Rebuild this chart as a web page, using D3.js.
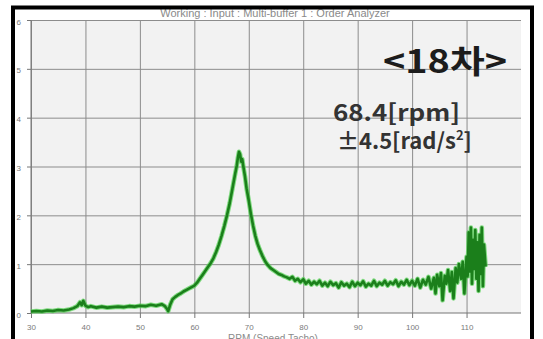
<!DOCTYPE html>
<html>
<head>
  <meta charset="utf-8">
  <script src="https://d3js.org/d3.v7.min.js"></script>
  <style type="text/css">
    body { margin: 0; background: #fff; }
    .tick text { font-family: "Liberation Sans", Arial, sans-serif; font-size: 8px; fill: #7a7a7a; }
    .note { font-family: "Noto Sans CJK KR", "Noto Sans", sans-serif; font-weight: bold; }
  </style>
</head>
<body>
<script type="text/javascript">
  // Tick values
  var xTicks = [30, 40, 50, 60, 70, 80, 90, 100, 110];
  var yTicks = [0, 1, 2, 3, 4, 5, 6];

  // Order 18 trace: [rpm, amplitude]
  var trace = [
    [30.0,0.03],[31.0,0.04],[32.0,0.03],[33.0,0.05],[34.0,0.04],[35.0,0.06],[36.0,0.05],[37.0,0.07],
    [37.8,0.10],[38.5,0.14],[39.0,0.22],[39.3,0.16],[39.6,0.25],[40.0,0.15],[40.5,0.12],[41.0,0.14],
    [42.0,0.11],[43.0,0.13],[44.0,0.11],[45.0,0.12],[46.0,0.13],[47.0,0.12],[48.0,0.14],[49.0,0.13],
    [50.0,0.15],[51.0,0.14],[52.0,0.17],[53.0,0.15],[54.0,0.18],[54.6,0.14],[55.0,0.08],[55.2,0.04],
    [55.6,0.18],[56.0,0.28],[56.5,0.33],[57.0,0.37],[57.5,0.40],[58.0,0.44],[58.5,0.47],[59.0,0.50],
    [59.5,0.53],[60.0,0.56],[60.5,0.62],[61.0,0.70],[61.5,0.78],[62.0,0.86],[62.5,0.94],[63.0,1.02],
    [63.5,1.12],[64.0,1.25],[64.5,1.40],[65.0,1.58],[65.5,1.78],[66.0,2.00],[66.5,2.25],[67.0,2.55],
    [67.5,2.85],[67.8,3.02],[68.0,3.18],[68.2,3.30],[68.4,3.25],[68.6,3.10],[68.8,3.15],[69.0,3.00],
    [69.3,2.80],[69.6,2.55],[70.0,2.30],[70.4,2.02],[70.8,1.78],[71.2,1.58],[71.6,1.42],[72.0,1.30],
    [72.5,1.17],[73.0,1.06],[73.5,0.98],[74.0,0.92],[74.5,0.88],[75.0,0.84],[75.5,0.80],[76.0,0.78],
    [76.5,0.75],[77.0,0.73],[77.5,0.70],[78.0,0.74],[78.5,0.66],[79.0,0.70],[79.5,0.63],[80.0,0.69],
    [80.5,0.60],[81.0,0.66],[81.5,0.58],[82.0,0.64],[82.5,0.59],[83.0,0.66],[83.5,0.56],[84.0,0.62],
    [84.5,0.55],[85.0,0.64],[85.5,0.57],[86.0,0.61],[86.5,0.52],[87.0,0.63],[87.5,0.56],[88.0,0.60],
    [88.5,0.53],[89.0,0.64],[89.5,0.55],[90.0,0.62],[90.5,0.57],[91.0,0.65],[91.5,0.54],[92.0,0.60],
    [92.5,0.56],[93.0,0.66],[93.5,0.55],[94.0,0.62],[94.5,0.58],[95.0,0.66],[95.5,0.56],[96.0,0.63],
    [96.5,0.59],[97.0,0.67],[97.5,0.55],[98.0,0.64],[98.5,0.58],[99.0,0.68],[99.5,0.57],[100.0,0.66],
    [100.5,0.56],[101.0,0.70],[101.5,0.52],[102.0,0.68],[102.5,0.58],[103.0,0.74],[103.5,0.50],[104.0,0.72],
    [104.3,0.40],[104.6,0.78],[105.0,0.55],[105.3,0.82],[105.6,0.26],[106.0,0.76],[106.3,0.60],[106.6,0.88],
    [107.0,0.45],[107.3,0.84],[107.6,0.30],[108.0,0.92],[108.3,0.62],[108.6,1.00],[109.0,0.70],[109.3,1.05],
    [109.6,0.40],[110.0,1.15],[110.2,0.75],[110.4,1.65],[110.6,0.85],[110.8,1.75],[111.0,0.60],[111.2,1.50],
    [111.4,0.90],[111.6,1.70],[111.8,0.70],[112.0,1.45],[112.2,0.45],[112.4,1.60],[112.6,0.80],[112.8,1.75],
    [113.0,0.55],[113.2,1.40],[113.5,0.95]
  ];

  function draw() {
    var W = 543, H = 339;
    var pLeft = 31, pRight = 521, pTop = 20, pBottom = 313;

    var svg = d3.select("body").append("svg")
        .attr("width", W)
        .attr("height", H);

    var x = d3.scaleLinear().domain([30, 120]).range([pLeft, pRight]);
    var y = d3.scaleLinear().domain([0, 6]).range([pBottom, pTop]);

    // plot background
    svg.append("rect")
        .attr("x", pLeft).attr("y", pTop)
        .attr("width", pRight - pLeft).attr("height", pBottom - pTop)
        .attr("fill", "#f2f2f2");

    // title (top half hidden by the frame)
    svg.append("text")
        .attr("x", 275).attr("y", 17)
        .attr("text-anchor", "middle")
        .style("font-family", "Liberation Sans, Arial, sans-serif")
        .style("font-size", "11px")
        .style("fill", "#8a8a8a")
        .text("Working : Input : Multi-buffer 1 : Order Analyzer");

    // grid
    svg.append("g")
        .attr("transform", "translate(0," + pBottom + ")")
        .call(d3.axisBottom(x).tickValues(xTicks).tickSize(-(pBottom - pTop)).tickFormat(""))
        .call(function(g) { g.select(".domain").remove(); })
        .selectAll("line").attr("stroke", "#8c8c8c");

    svg.append("g")
        .attr("transform", "translate(" + pLeft + ",0)")
        .call(d3.axisLeft(y).tickValues(yTicks.slice(1)).tickSize(-(pRight - pLeft)).tickFormat(""))
        .call(function(g) { g.select(".domain").remove(); })
        .selectAll("line").attr("stroke", "#8c8c8c");

    // axes
    var xAxis = svg.append("g")
        .attr("transform", "translate(0," + pBottom + ")")
        .call(d3.axisBottom(x).tickValues(xTicks).tickSize(5).tickPadding(6));
    xAxis.select(".domain").attr("stroke", "#777").attr("d", "M" + pLeft + ",0H" + pRight);
    xAxis.selectAll(".tick line").attr("stroke", "#777");

    var yAxis = svg.append("g")
        .attr("transform", "translate(" + pLeft + ",0)")
        .call(d3.axisLeft(y).tickValues(yTicks).tickFormat(d3.format("d")).tickSize(4).tickPadding(6));
    yAxis.select(".domain").attr("stroke", "#777").attr("d", "M0," + pBottom + "V" + pTop);
    yAxis.selectAll(".tick line").attr("stroke", "#777");
    yAxis.selectAll(".tick text").attr("dy", "0.5em");

    // x axis title (cut by window bottom)
    svg.append("text")
        .attr("x", 273).attr("y", 342)
        .attr("text-anchor", "middle")
        .style("font-family", "Liberation Sans, Arial, sans-serif")
        .style("font-size", "10px")
        .style("fill", "#8a8a8a")
        .text("RPM (Speed Tacho)");

    // trace
    var line = d3.line().x(function(d) { return x(d[0]); }).y(function(d) { return y(d[1]); });
    svg.append("path").datum(trace)
        .attr("d", line).attr("fill", "none")
        .attr("stroke", "#4fd04f").attr("stroke-width", 4.6)
        .attr("stroke-opacity", 0.7).attr("stroke-linejoin", "round");
    svg.append("path").datum(trace)
        .attr("d", line).attr("fill", "none")
        .attr("stroke", "#1b7f1b").attr("stroke-width", 2.6)
        .attr("stroke-linejoin", "round");

    // notes
    svg.append("text").attr("class", "note")
        .attr("x", 383).attr("y", 73)
        .attr("textLength", 124).attr("lengthAdjust", "spacingAndGlyphs")
        .style("font-size", "32px").style("fill", "#1c1c1c")
        .text("<18차>");
    svg.append("text").attr("class", "note")
        .attr("x", 333).attr("y", 121)
        .attr("textLength", 127).attr("lengthAdjust", "spacingAndGlyphs")
        .style("font-size", "23px").style("fill", "#333")
        .text("68.4[rpm]");
    var t2 = svg.append("text").attr("class", "note")
        .attr("x", 337).attr("y", 149)
        .style("font-size", "22px").style("fill", "#333");
    t2.append("tspan").text("±4.5[rad/s");
    t2.append("tspan").attr("dy", -9).style("font-size", "13px").text("2");
    t2.append("tspan").attr("dy", 9).text("]");

    // outer frame
    svg.append("rect")
        .attr("x", 13).attr("y", 7.5)
        .attr("width", 519).attr("height", 400)
        .attr("fill", "none").attr("stroke", "#000").attr("stroke-width", 4);
  }

  draw();
</script>
</body>
</html>
